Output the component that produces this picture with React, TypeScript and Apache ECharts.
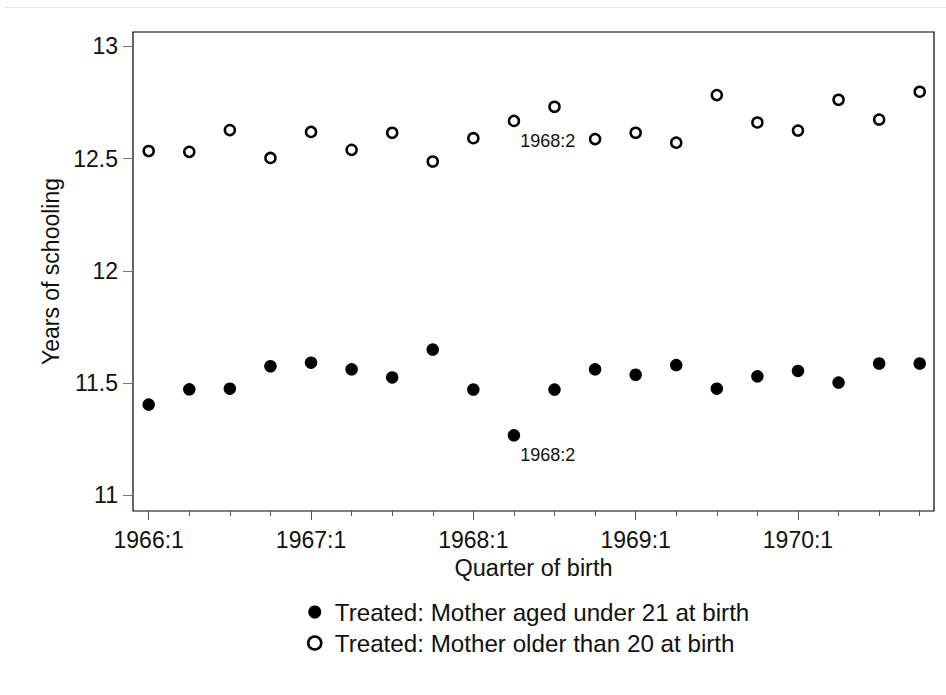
import React, { useEffect, useRef } from "react";
import * as echarts from "echarts";

const quarters = [
  "1966:1", "1966:2", "1966:3", "1966:4",
  "1967:1", "1967:2", "1967:3", "1967:4",
  "1968:1", "1968:2", "1968:3", "1968:4",
  "1969:1", "1969:2", "1969:3", "1969:4",
  "1970:1", "1970:2", "1970:3", "1970:4",
];
const under21 = [
  11.404, 11.472, 11.475, 11.575,
  11.591, 11.561, 11.525, 11.649,
  11.471, 11.267, 11.471, 11.561,
  11.537, 11.58, 11.475, 11.53,
  11.554, 11.502, 11.587, 11.587,
];
const over20 = [
  12.534, 12.53, 12.627, 12.503,
  12.619, 12.539, 12.615, 12.487,
  12.591, 12.668, 12.731, 12.587,
  12.615, 12.571, 12.783, 12.661,
  12.625, 12.762, 12.674, 12.798,
];
const xLabelQuarters = ["1966:1", "1967:1", "1968:1", "1969:1", "1970:1"];
const yTicks = [11, 11.5, 12, 12.5, 13];
const labelledQuarter = "1968:2";
const seriesNames = [
  "Treated: Mother aged under 21 at birth",
  "Treated: Mother older than 20 at birth",
];

const FONT = "'Liberation Sans', Arial, Helvetica, sans-serif";

export default function App() {
  const ref = useRef<HTMLDivElement>(null);
  useEffect(() => {
    if (!ref.current) return;
    const chart = echarts.init(ref.current, null, { renderer: "svg" });
    const majorIdx = xLabelQuarters.map((q) => quarters.indexOf(q));
    const minorIdx = quarters.map((_, i) => i).filter((i) => !majorIdx.includes(i));
    const mk = (vals: number[]) =>
      vals.map((v, i) => {
        const item: any = { value: [i, v] };
        if (quarters[i] === labelledQuarter) {
          item.label = {
            show: true,
            formatter: quarters[i],
            position: "right",
            distance: 0,
            offset: [0, 20],
            fontSize: 18,
            fontFamily: FONT,
            color: "#111",
          };
        }
        return item;
      });
    const xMin = -0.387;
    const xMax = 19.352;
    chart.setOption({
      animation: false,
      backgroundColor: "#fff",
      textStyle: { fontFamily: FONT },
      graphic: [
        {
          type: "line",
          shape: { x1: 5, y1: 7.5, x2: 946, y2: 7.5 },
          style: { stroke: "#e6e6e6", lineWidth: 1 },
          silent: true,
        },
      ],
      grid: {
        left: 133,
        right: 12,
        top: 32,
        bottom: 184,
        show: true,
        borderColor: "#000",
        borderWidth: 1.2,
        containLabel: false,
        outerBoundsMode: "none",
      },
      legend: {
        orient: "vertical",
        left: 302,
        top: 595,
        itemWidth: 30,
        itemHeight: 13,
        itemGap: 7,
        textStyle: { fontSize: 24.2, color: "#111", fontFamily: FONT },
        data: [
          { name: seriesNames[0], icon: "circle", itemStyle: { color: "#000", opacity: 1 } },
          { name: seriesNames[1], icon: "circle", itemStyle: { borderWidth: 2.5, borderColor: "#000", color: "#fff", opacity: 1 } },
        ],
      },
      xAxis: [
        {
          type: "value",
          min: xMin,
          max: xMax,
          axisLine: { show: false, onZero: false },
          splitLine: { show: false },
          axisTick: { show: true, inside: false, customValues: majorIdx, length: 9, lineStyle: { color: "#555", width: 1 } },
          axisLabel: {
            customValues: majorIdx,
            formatter: (v: number) => quarters[Math.round(v)],
            fontSize: 23,
            color: "#111",
            margin: 17,
            fontFamily: FONT,
          },
          name: "Quarter of birth",
          nameLocation: "middle",
          nameGap: 51,
          nameTextStyle: { fontSize: 23.5, color: "#111", fontFamily: FONT, verticalAlign: "middle" },
        },
        {
          type: "value",
          min: xMin,
          max: xMax,
          position: "bottom",
          axisLine: { show: false, onZero: false },
          splitLine: { show: false },
          axisTick: { show: true, inside: false, customValues: minorIdx, length: 5, lineStyle: { color: "#555", width: 1 } },
          axisLabel: { show: false },
        },
      ],
      yAxis: {
        type: "value",
        min: 10.93,
        max: 13.064,
        axisLine: { show: false, onZero: false },
        splitLine: { show: false },
        axisTick: { show: true, inside: false, customValues: yTicks, length: 10, lineStyle: { color: "#777", width: 1 } },
        axisLabel: {
          customValues: yTicks,
          formatter: (v: number) => String(v),
          fontSize: 23,
          color: "#111",
          margin: 15,
          fontFamily: FONT,
        },
        name: "Years of schooling",
        nameLocation: "middle",
        nameGap: 82,
        nameTextStyle: { fontSize: 23, color: "#111", fontFamily: FONT, verticalAlign: "middle" },
      },
      series: [
        {
          name: seriesNames[0],
          type: "scatter",
          symbol: "circle",
          symbolSize: 12.5,
          itemStyle: { color: "#000", opacity: 1 },
          data: mk(under21),
        },
        {
          name: seriesNames[1],
          type: "scatter",
          symbol: "circle",
          symbolSize: 10,
          itemStyle: { color: "#fff", borderColor: "#000", borderWidth: 2.5, opacity: 1 },
          data: mk(over20),
        },
      ],
    });
    return () => chart.dispose();
  }, []);
  return (
    <div
      ref={ref}
      style={{ position: "fixed", left: 0, top: 0, width: 946, height: 695, background: "#fff" }}
    />
  );
}
